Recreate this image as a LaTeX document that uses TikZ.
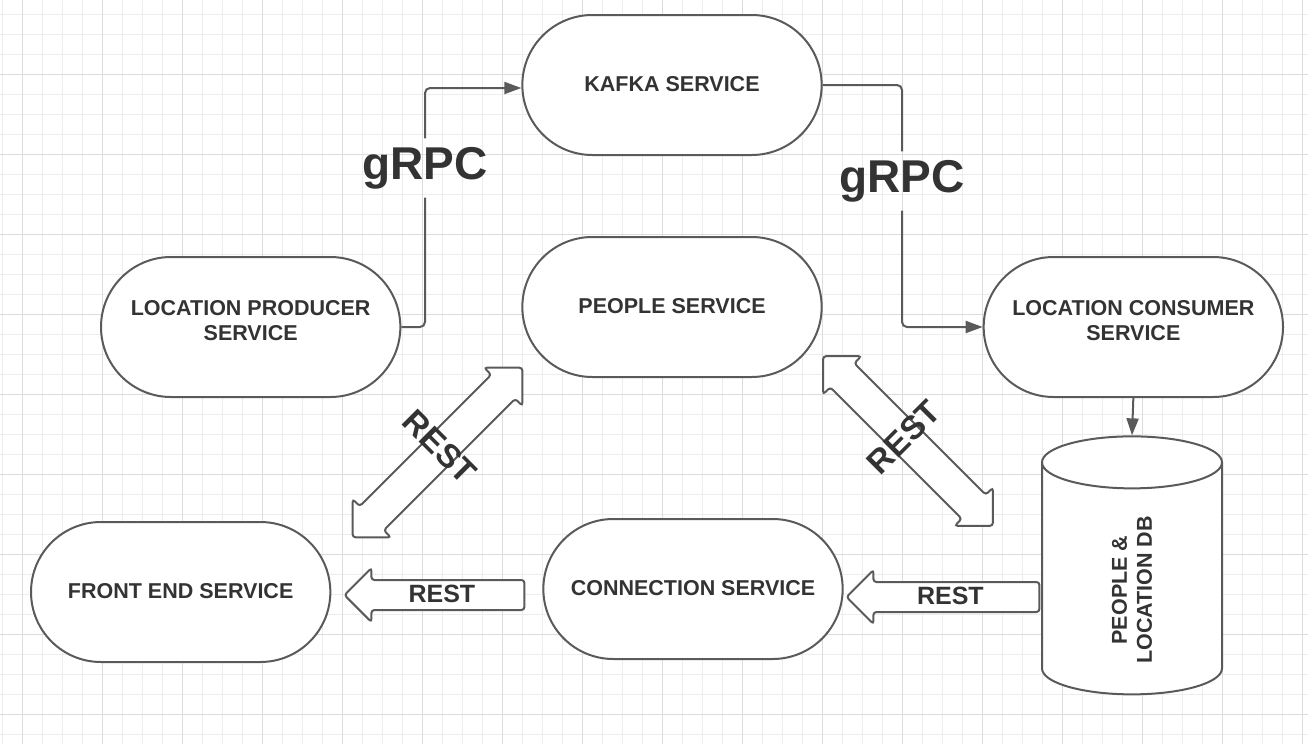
\documentclass[tikz,border=0pt]{standalone}
\usepackage{fontspec}
\setmainfont{Liberation Sans}
\usetikzlibrary{positioning,shapes.misc,shapes.geometric,shapes.arrows,arrows.meta}

\definecolor{linegray}{HTML}{5A5A5A}
\definecolor{textgray}{HTML}{333333}
\definecolor{gridminor}{HTML}{EDEDED}
\definecolor{gridmajor}{HTML}{DCDCDC}

\tikzset{
  service/.style={rounded rectangle, draw=linegray, line width=2pt, fill=white,
    minimum width=306pt, minimum height=140pt, align=center, text=textgray,
    text depth=3pt, font=\bfseries\fontsize{21.5}{25}\selectfont},
  twoline/.style={text depth=14pt},
  dbstore/.style={cylinder, rotate=90, draw=linegray, line width=2pt, fill=white,
    aspect=1, inner xsep=26pt, inner ysep=26pt, minimum width=180pt, minimum height=258pt},
  dblabel/.style={rotate=90, align=center, text=textgray,
    font=\bfseries\fontsize{21.5}{25}\selectfont},
  link/.style={draw=linegray, line width=2pt, rounded corners=5pt},
  protolabel/.style={text=textgray, font=\bfseries\fontsize{46}{50}\selectfont,
    text height=33pt, text depth=10pt, inner xsep=0pt, inner ysep=8pt},
  restarrow/.style={single arrow, shape border rotate=180, draw=linegray,
    line width=2pt, fill=white, rounded corners=3pt, single arrow head extend=12pt,
    minimum height=180pt, text height=17pt, text depth=3pt, inner ysep=4pt,
    text=textgray, font=\bfseries\fontsize{25}{25}\selectfont},
  restboth/.style={double arrow, draw=linegray, line width=2pt, fill=white,
    rounded corners=3pt, double arrow head extend=10pt, minimum height=240pt,
    text height=0pt, text depth=0pt, inner xsep=0pt, inner ysep=16pt},
  resttext/.style={text=textgray, font=\bfseries\fontsize{33}{33}\selectfont},
}

\begin{document}
\begin{tikzpicture}[x=1pt,y=-1pt,>={Triangle[length=17pt,width=12pt]}]

\useasboundingbox (0,0) rectangle (1308,744);

%grid
\foreach \gx in {2.7,22.7,...,1308} \draw[gridminor,line width=1pt] (\gx,0) -- (\gx,744);
\foreach \gy in {14,34,...,744} \draw[gridminor,line width=1pt] (0,\gy) -- (1308,\gy);
\foreach \gx in {22.7,102.7,...,1308} \draw[gridmajor,line width=1pt] (\gx,0) -- (\gx,744);
\foreach \gy in {74,154,...,744} \draw[gridmajor,line width=1pt] (0,\gy) -- (1308,\gy);

\node[service] (kafka) at (672,85) {KAFKA SERVICE};
\node[service, below = 80pt of kafka] (people) {PEOPLE SERVICE};
\node[service, twoline, left = 120pt of people, yshift=-20pt] (producer) {LOCATION PRODUCER\\SERVICE};
\node[service, twoline, right = 160pt of people, yshift=-20pt] (consumer) {LOCATION CONSUMER\\SERVICE};
\node[service, below = 140pt of people, xshift=21pt] (connection) {CONNECTION SERVICE};
\node[service, left = 211pt of connection, yshift=-3pt] (frontend) {FRONT END SERVICE};
\node[dbstore] (db) at (1132,588) {};
\node[dblabel] (dbtext) at (1132,590) {PEOPLE \&\\LOCATION DB};

\node[protolabel] (grpcl) at (425,168) {gRPC};
\node[protolabel] (grpcr) at (902,181) {gRPC};

\draw[link] (producer.east) -| (grpcl.south);
\draw[link,->] (grpcl.north) |- ([yshift=-3pt]kafka.west);
\draw[link] (kafka.east) -| (grpcr.north);
\draw[link,->] (grpcr.south) |- (consumer.west);
\draw[link,->] (consumer.south) -- (db.top);

%REST arrows
\node[restboth, rotate=45] (restpl) at (437.5,452.5) {};
\node[resttext, rotate=-45] at (440,447) {REST};
\node[restboth, rotate=-45] (restpr) at (908,441) {};
\node[resttext, rotate=45] at (904,437) {REST};

\node[restarrow, anchor=tip] (restfe) at (343,595) {REST};
\node[restarrow, anchor=tip, minimum height=193pt] (restcon) at (845,597) {REST};

\end{tikzpicture}
\end{document}
